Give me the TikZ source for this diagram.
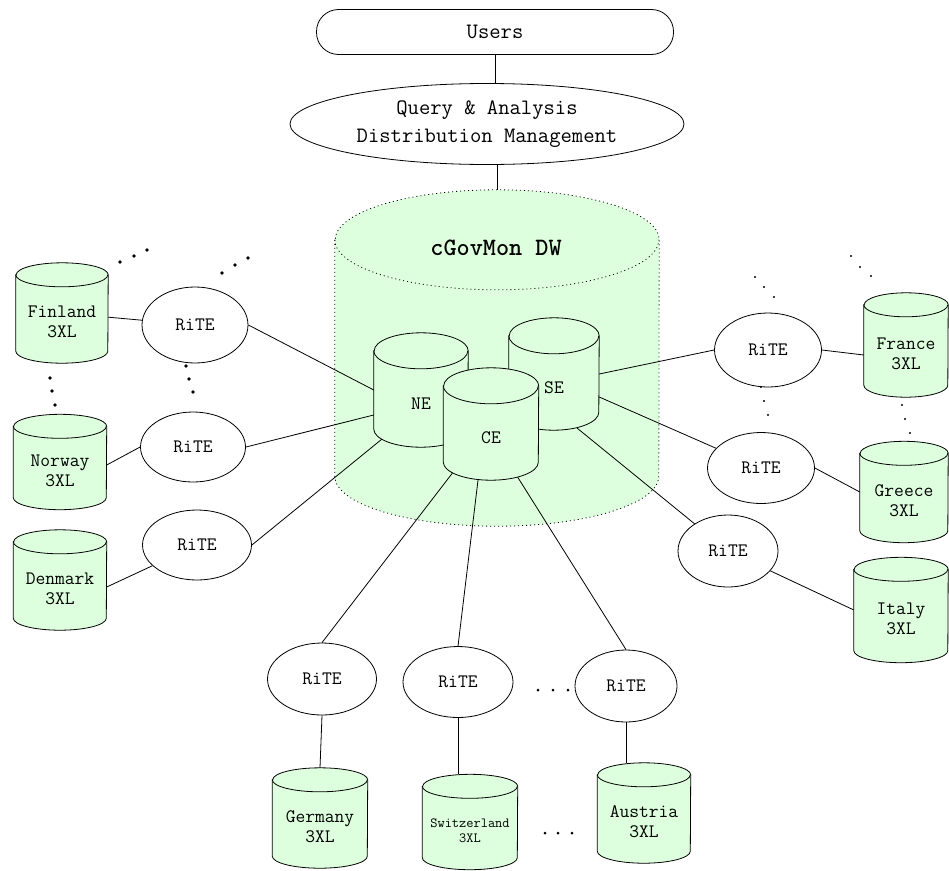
\documentclass[tikz,border=0pt]{standalone}
\usetikzlibrary{shapes.geometric}

\definecolor{dwgreen}{RGB}{221,255,221}

\tikzset{
  conn/.style={line width=0.8pt},
  dbline/.style={line width=0.8pt},
  dwline/.style={line width=0.8pt, dash pattern=on 1pt off 3pt},
  dbbox/.style={rectangle, inner sep=0pt},
  dbtext/.style={align=center, inner sep=0pt, font=\fontsize{19}{20}\selectfont\ttfamily},
  rite/.style={ellipse, draw, line width=0.8pt, inner sep=0pt, font=\fontsize{19}{20}\selectfont\ttfamily},
  topbox/.style={draw, line width=0.8pt, align=center, inner sep=0pt, font=\fontsize{22}{28}\selectfont\ttfamily}
}

\begin{document}
\begin{tikzpicture}[x=1pt, y=-1pt]

\useasboundingbox (0,0) rectangle (949,870);

% 圆柱体: [端面半高] 名字, x, y, 宽, 高, 文字
\newcommand{\dbcyl}[7][12]{%
  \node[dbbox, minimum width=#5pt, minimum height=#6pt] (#2) at (#3,#4) {};
  \filldraw[dbline, fill=dwgreen] ([yshift=-#1pt]#2.north west) -- ([yshift=#1pt]#2.south west)
    arc[start angle=180, end angle=360, x radius=#5pt/2, y radius=#1pt]
    -- ([yshift=-#1pt]#2.north east)
    arc[start angle=0, end angle=180, x radius=#5pt/2, y radius=#1pt] -- cycle;
  \draw[dbline] ([yshift=-#1pt]#2.north west)
    arc[start angle=180, end angle=360, x radius=#5pt/2, y radius=#1pt];
  \node[dbtext] (#2-t) at ([yshift=-0.75*#1pt]#2.center) {#7};
}

% 上面两层
\node[topbox, rectangle, rounded corners=22pt, minimum width=357pt, minimum height=45pt] (users) at (495,32) {Users};
\node[topbox, ellipse, minimum width=394pt, minimum height=81pt] (qa) at (487,124) {Query \& Analysis\\Distribution Management};

% 数据仓库大圆柱
\node[dbbox, minimum width=324pt, minimum height=336pt] (dw) at (497,358) {};
\filldraw[dwline, fill=dwgreen] ([yshift=-50pt]dw.north west) -- ([yshift=50pt]dw.south west)
  arc[start angle=180, end angle=360, x radius=162pt, y radius=50pt]
  -- ([yshift=-50pt]dw.north east)
  arc[start angle=0, end angle=180, x radius=162pt, y radius=50pt] -- cycle;
\draw[dwline] ([yshift=-50pt]dw.north west)
  arc[start angle=180, end angle=360, x radius=162pt, y radius=50pt];
\node[font=\fontsize{25}{26}\selectfont\ttfamily\bfseries] (dwtitle) at (496,248) {cGovMon DW};

% 三个中心库
\dbcyl[18]{ne}{421}{390}{94}{114}{NE}
\dbcyl[18]{se}{554}{374}{90}{112}{SE}
\dbcyl[18]{ce}{491}{424}{95}{112}{CE}

% 各国 3XL
\dbcyl{finland}{62}{313}{92}{100}{Finland\\3XL}
\dbcyl{norway}{60}{462}{93}{95}{Norway\\3XL}
\dbcyl{denmark}{60}{580}{93}{100}{Denmark\\3XL}
\dbcyl{france}{906}{345}{84}{104}{France\\3XL}
\dbcyl{greece}{904}{492}{88}{101}{Greece\\3XL}
\dbcyl{italy}{901}{610}{94}{105}{Italy\\3XL}
\dbcyl{germany}{320}{818}{95}{100}{Germany\\3XL}
\dbcyl{switz}{470}{822}{95}{95}{{\fontsize{14}{12}\selectfont Switzerland}\\[-5pt]{\fontsize{14}{12}\selectfont 3XL}}
\dbcyl{austria}{644}{813}{93}{100}{Austria\\3XL}

% RiTE 节点
\node[rite, minimum width=106pt, minimum height=76pt] (rfi) at (195,325) {RiTE};
\node[rite, minimum width=105pt, minimum height=70pt] (rno) at (193,447) {RiTE};
\node[rite, minimum width=109pt, minimum height=70pt] (rde) at (197,545) {RiTE};
\node[rite, minimum width=107pt, minimum height=74pt] (rfr) at (768,350) {RiTE};
\node[rite, minimum width=107pt, minimum height=71pt] (rgr) at (761,468) {RiTE};
\node[rite, minimum width=100pt, minimum height=72pt] (rit) at (728,551) {RiTE};
\node[rite, minimum width=109pt, minimum height=72pt] (rge) at (322,679) {RiTE};
\node[rite, minimum width=110pt, minimum height=71pt] (rsw) at (458,682) {RiTE};
\node[rite, minimum width=102pt, minimum height=72pt] (rau) at (626,686) {RiTE};

% 连线
\draw[conn] (users.south) -- (users.south |- qa.north);
\draw[conn] (dw.north |- qa.south) -- (dw.north);

\draw[conn] (finland) -- (rfi);
\draw[conn] ([yshift=-3pt]norway.east) -- (rno.west);
\draw[conn] ([yshift=-7pt]denmark.east) -- (rde);
\draw[conn] (rfi.east) -- (ne.west);
\draw[conn] (rno.east) -- ([yshift=-25pt]ne.west);
\draw[conn] (rde.east) -- ([shift={(8pt,8pt)}]ne.south west);

\draw[conn] (se.east) -- (rfr.west);
\draw[conn] ([yshift=-23pt]se.east) -- (rgr);
\draw[conn] ([shift={(-22pt,2pt)}]se.south east) -- (rit);
\draw[conn] (rfr.east) -- ([yshift=-10pt]france.west);
\draw[conn] (rgr.east) -- (greece.west);
\draw[conn] (rit) -- (italy.west);

\draw[conn] ([shift={(9pt,7pt)}]ce.south west) -- (rge.north);
\draw[conn] ([xshift=-13pt]ce.south) -- (rsw.north);
\draw[conn] ([shift={(-21pt,3pt)}]ce.south east) -- (rau.north);
\draw[conn] (rge.south) -- (germany.north);
\draw[conn] (rsw.south) -- (rsw.south |- switz.north);
\draw[conn] (rau.south) -- (rau.south |- austria.north);

% 省略号
\foreach \x/\y in {120/262, 134/256, 147/250, 222/273, 235/265, 248/258,
                   50/378, 52/391, 55/405, 186/366, 189/379, 193/392}
  \fill (\x,\y) circle (1.8pt);
\foreach \x/\y in {851/256, 860/267, 871/276, 755/277, 764/287, 774/297,
                   761/387, 764/401, 768/415, 902/405, 905/419, 910/433}
  \fill (\x,\y) circle (1.2pt);
\foreach \x/\y in {538/690, 553/690, 568/690, 545/833, 558/833, 572/833}
  \fill (\x,\y) circle (1.5pt);

\end{tikzpicture}
\end{document}
